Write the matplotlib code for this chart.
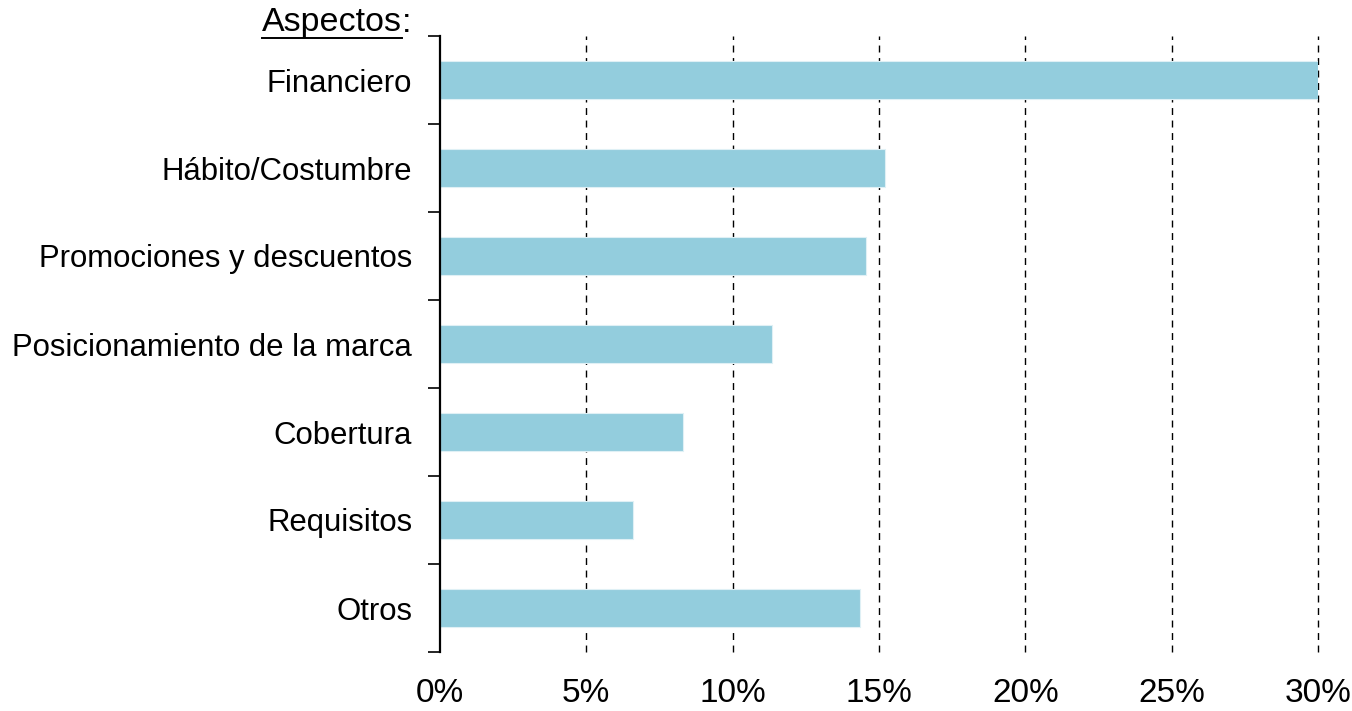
import matplotlib
matplotlib.use('Agg')
import matplotlib.pyplot as plt
from matplotlib.ticker import FuncFormatter

plt.rcParams['font.family'] = ['Liberation Sans', 'DejaVu Sans']

aspectos = ['Financiero', 'Hábito/Costumbre', 'Promociones y descuentos',
            'Posicionamiento de la marca', 'Cobertura', 'Requisitos', 'Otros']
valores = [30.0, 15.2, 14.55, 11.35, 8.3, 6.6, 14.35]
x_ticks = [0, 5, 10, 15, 20, 25, 30]

fig = plt.figure(figsize=(13.52, 7.11), dpi=100)
ax = fig.add_axes([440 / 1352, 59 / 711, 878 / 1352, 616 / 711])

pos = list(range(len(aspectos)))
ax.barh(pos, valores, height=0.43, color='#93CDDD', edgecolor='#dff0f5', linewidth=0.8, zorder=2)
ax.set_ylim(len(aspectos) - 0.5, -0.5)
ax.set_xlim(0, 30)

# y labels at centers, tick marks at boundaries
ax.set_yticks(pos)
ax.set_yticklabels(aspectos, fontsize=22.4)
ax.tick_params(axis='y', which='major', length=0, pad=20)
ax.set_yticks([p - 0.5 for p in pos] + [len(aspectos) - 0.5], minor=True)
ax.tick_params(axis='y', which='minor', length=9, width=1.2, direction='out')

ax.set_xticks(x_ticks)
ax.xaxis.set_major_formatter(FuncFormatter(lambda v, _: '%d%%' % v))
ax.tick_params(axis='x', length=0, labelsize=24, pad=19)

for v in x_ticks[1:]:
    ax.axvline(v, color='black', linestyle=(0, (5, 4)), linewidth=1, zorder=1, clip_on=False)

for side in ['top', 'right', 'bottom']:
    ax.spines[side].set_visible(False)
ax.spines['left'].set_linewidth(1.6)

t = fig.text(402 / 1352, 1 - 23 / 711, 'Aspectos', fontsize=24.5, ha='right', va='center')
fig.text(402 / 1352, 1 - 23 / 711, ':', fontsize=24.5, ha='left', va='center')
fig.canvas.draw()
bb = t.get_window_extent()
fig.add_artist(plt.Line2D([bb.x0 / 1352, bb.x1 / 1352], [(bb.y0 + 1) / 711] * 2,
                          color='black', linewidth=1.4, transform=fig.transFigure))

fig.savefig('out.png', dpi=100)
